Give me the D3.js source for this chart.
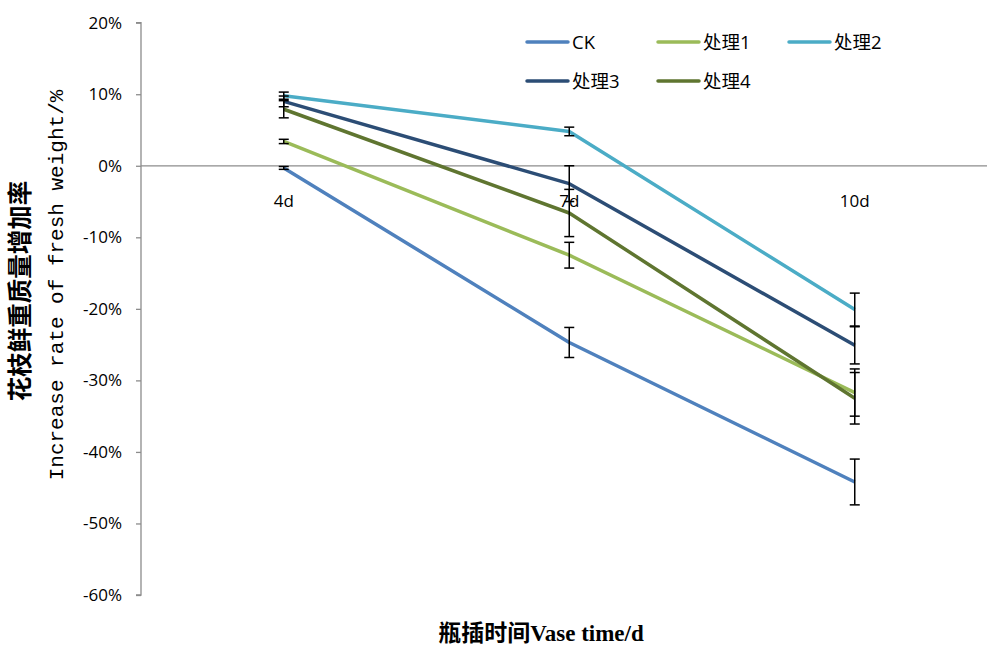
<!DOCTYPE html>
<html>
<head>
<meta charset="utf-8">
<script src="https://cdn.jsdelivr.net/npm/d3@7"></script>
<style>
html,body{margin:0;padding:0;background:#fff;}
svg{display:block;}
</style>
</head>
<body>
<svg id="chart" width="987" height="650"></svg>
<script>
const categories = ["4d", "7d", "10d"];
const seriesNames = ["CK", "处理1", "处理2", "处理3", "处理4"];
const ckValues = [-0.3, -24.7, -44.2];
const ckErrors = [0.2, 2.1, 3.2];
const t1Values = [3.4, -12.5, -31.7];
const t1Errors = [0.3, 1.8, 3.3];
const t2Values = [9.8, 4.8, -20.1];
const t2Errors = [0.5, 0.6, 2.3];
const t3Values = [9.0, -2.5, -25.1];
const t3Errors = [0.75, 2.5, 2.6];
const t4Values = [7.9, -6.6, -32.5];
const t4Errors = [1.2, 3.3, 3.6];
const yTicks = [20, 10, 0, -10, -20, -30, -40, -50, -60];
const colors = ["#4F81BD", "#9BBB59", "#4BACC6", "#2C4D75", "#5F7530"];

const series = [
  {name: seriesNames[0], values: ckValues, errors: ckErrors, color: colors[0]},
  {name: seriesNames[1], values: t1Values, errors: t1Errors, color: colors[1]},
  {name: seriesNames[2], values: t2Values, errors: t2Errors, color: colors[2]},
  {name: seriesNames[3], values: t3Values, errors: t3Errors, color: colors[3]},
  {name: seriesNames[4], values: t4Values, errors: t4Errors, color: colors[4]}
];

const svg = d3.select("#chart");
const mLeft = 141, mRight = 997.5, mTop = 22.7, mBottom = 595;

const x = d3.scaleBand().domain(categories).range([mLeft, mRight]);
const y = d3.scaleLinear().domain([-60, 20]).range([mBottom, mTop]);
const cx = c => x(c) + x.bandwidth() / 2;

const tickFont = "'Open Sans', sans-serif";

// Y axis
const yAxis = d3.axisLeft(y).tickValues(yTicks).tickSize(5).tickPadding(14)
  .tickFormat(d => d + "%");
const gy = svg.append("g").attr("transform", `translate(${mLeft},0)`).call(yAxis);
gy.select(".domain").attr("stroke", "#8c8c8c").attr("stroke-width", 1.3)
  .attr("d", `M-5,${y(20)}H0V${y(-60)}H-5`);
gy.selectAll(".tick line").attr("stroke", "#8c8c8c").attr("stroke-width", 1.3);
gy.selectAll(".tick text").attr("fill", "#000").style("font-family", tickFont).style("font-size", "17px");

// X axis at 0
const xAxis = d3.axisBottom(x).tickSize(0).tickPadding(29);
const gx = svg.append("g").attr("transform", `translate(0,${y(0)})`).call(xAxis);
gx.select(".domain").attr("stroke", "#8c8c8c").attr("stroke-width", 1.3).attr("d", `M${mLeft},0H${mRight}`);
gx.selectAll(".tick text").attr("fill", "#000").style("font-family", tickFont).style("font-size", "17px");

// Series
const line = d3.line().x((d, i) => cx(categories[i])).y(d => y(d));
series.forEach(s => {
  svg.append("path").datum(s.values)
    .attr("fill", "none").attr("stroke", s.color).attr("stroke-width", 3.5)
    .attr("stroke-linejoin", "round").attr("d", line);
  const eg = svg.append("g");
  s.values.forEach((v, i) => {
    const px = cx(categories[i]);
    const y1 = y(v + s.errors[i]), y2 = y(v - s.errors[i]);
    eg.append("line").attr("x1", px).attr("x2", px).attr("y1", y1).attr("y2", y2)
      .attr("stroke", "#000").attr("stroke-width", 1.5);
    [y1, y2].forEach(yy => eg.append("line").attr("x1", px - 5).attr("x2", px + 5)
      .attr("y1", yy).attr("y2", yy).attr("stroke", "#000").attr("stroke-width", 1.5));
  });
});

// Legend
const legendPos = [[527, 42], [658, 42], [789, 42], [527, 81], [658, 81]];
series.forEach((s, i) => {
  const [lx, ly] = legendPos[i];
  svg.append("line").attr("x1", lx).attr("x2", lx + 41).attr("y1", ly).attr("y2", ly)
    .attr("stroke", s.color).attr("stroke-width", 3.5).attr("stroke-linecap", "round");
  svg.append("text").attr("x", lx + 45).attr("y", ly).attr("dy", "0.36em")
    .style("font-family", "'Open Sans','Noto Sans CJK SC',sans-serif").style("font-size", "18.5px")
    .attr("fill", "#000").text(s.name);
});

// Y title
svg.append("text").attr("transform", "translate(29,291) rotate(-90)")
  .attr("text-anchor", "middle")
  .style("font-family", "'Noto Sans CJK SC',sans-serif").style("font-weight", "700").style("font-size", "24.5px")
  .attr("fill", "#000").text("花枝鲜重质量增加率");
svg.append("text").attr("transform", "translate(63,285) rotate(-90)")
  .attr("text-anchor", "middle")
  .style("font-family", "'Liberation Mono',monospace").style("font-size", "21px")
  .attr("fill", "#000").text("Increase rate of fresh weight/%");

// X title
const xt = svg.append("text").attr("x", 541).attr("y", 641).attr("text-anchor", "middle")
  .attr("fill", "#000").style("font-size", "23px").style("font-weight", "700");
xt.append("tspan").style("font-family", "'Noto Sans CJK SC',sans-serif").text("瓶插时间");
xt.append("tspan").style("font-family", "'Liberation Serif',serif").text("Vase time/d");
</script>
</body>
</html>
